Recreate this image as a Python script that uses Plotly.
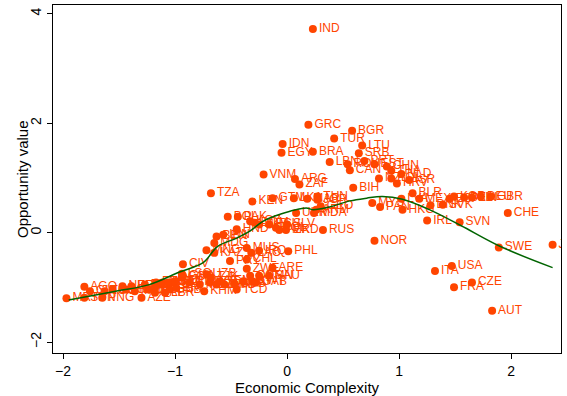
import plotly.graph_objects as go

codes = ["IND","GRC","BGR","TUR","LTU","IDN","EGY","BRA","SRB","LBN","ROU","CAN","PRT","EST","CHN","THA","NZL","POL","NLD","ISR","HRV","BLR","MEX","LVA","MYS","PAN","HKG","DNK","SVK","ESP","KOR","BEL","FIN","DEU","GBR","CHE","IRL","SVN","SWE","JPN","NOR","RUS","USA","ITA","CZE","FRA","AUT","BIH","VNM","ARG","ZAF","TZA","KEN","GTM","LKA","MAR","TUN","JOR","GEO","UKR","MDA","ARM",
         "BOL","PAK","KGZ","DOM","ALB","ECU","COL","PER","MKD","SLV","HND","IRN","BEN","MDG","MNG","KAZ","PRY","MUS","LAO","IRQ","PHL","CHL","ZWE","ARE","CIV",
         "UZB","TJK","SAU","OMN","QAT","KWT","YEM","KHM","CMR","GHA","SEN","NGA","ETH","ZMB","LBY","CUB","GAB","AZE","TCD","BGD","MOZ","MMR",
         "MRT","SDN","PNG","AGO","GIN","TGO","COG","NER","MWI","MLI","BFA","RWA","UGA","HTI","CAF","SLE","LBR","NPL","GNB","BDI","ERI","COD","LSO"]
eci = [0.23,0.19,0.58,0.42,0.67,-0.04,-0.05,0.23,0.64,0.38,0.54,0.56,0.69,0.78,0.89,0.93,0.82,0.93,1.02,1.09,0.98,1.12,1.18,1.02,0.76,0.83,1.03,1.28,1.39,1.45,1.49,1.58,1.65,1.73,1.82,1.97,1.25,1.54,1.89,2.37,0.78,0.32,1.47,1.32,1.65,1.49,1.83,0.59,-0.21,0.07,0.11,-0.68,-0.31,-0.13,0.06,0.18,0.27,0.27,0.30,0.08,0.24,0.26,
       -0.53,-0.44,-0.33,-0.29,-0.25,-0.16,-0.10,-0.07,-0.01,0.00,-0.45,-0.57,-0.63,-0.65,-0.72,-0.65,-0.51,-0.36,-0.32,-0.25,0.01,-0.36,-0.36,-0.13,-0.93,
       -0.72,-0.68,-0.16,-0.25,-0.33,-0.31,-0.60,-0.74,-0.87,-0.93,-1.02,-1.11,-1.17,-0.56,-0.39,-0.47,-0.28,-1.30,-0.45,-0.69,-0.78,-0.63,
       -1.97,-1.81,-1.65,-1.81,-1.76,-1.63,-1.56,-1.47,-1.44,-1.36,-1.39,-1.27,-1.24,-1.18,-1.18,-1.12,-1.09,-1.06,-1.05,-1.00,-0.99,-0.94,-0.94]
opp = [3.72,1.97,1.86,1.72,1.59,1.62,1.46,1.48,1.45,1.29,1.25,1.14,1.31,1.25,1.21,1.13,0.99,0.99,1.07,0.96,0.90,0.72,0.62,0.62,0.54,0.47,0.42,0.50,0.51,0.62,0.66,0.64,0.64,0.66,0.66,0.36,0.22,0.19,-0.27,-0.22,-0.15,0.05,-0.61,-0.70,-0.91,-1.00,-1.43,0.82,1.06,0.98,0.88,0.72,0.57,0.63,0.63,0.62,0.66,0.60,0.48,0.36,0.36,0.42,
       0.29,0.29,0.21,0.18,0.15,0.15,0.09,0.05,0.05,0.15,0.06,-0.04,-0.07,-0.19,-0.32,-0.37,-0.52,-0.28,-0.37,-0.33,-0.34,-0.49,-0.66,-0.64,-0.58,
       -0.76,-0.82,-0.79,-0.79,-0.79,-0.89,-0.89,-1.07,-0.91,-0.79,-0.91,-0.91,-0.91,-0.95,-0.89,-0.93,-0.91,-1.19,-1.04,-0.91,-0.95,-0.95,
       -1.20,-1.19,-1.19,-0.99,-1.07,-1.07,-1.04,-0.98,-1.04,-1.07,-0.98,-0.95,-1.04,-1.01,-1.10,-0.95,-1.10,-0.91,-1.04,-0.89,-1.01,-0.82,-0.75]

fit_x = [-1.95,-1.53,-1.23,-0.96,-0.75,-0.62,-0.45,-0.33,-0.22,-0.07,0.17,0.23,0.38,0.56,0.71,0.85,1.03,1.27,1.55,1.90,2.37]
fit_y = [-1.23,-1.07,-0.95,-0.72,-0.55,-0.25,-0.10,0.03,0.20,0.33,0.45,0.42,0.47,0.58,0.63,0.66,0.61,0.42,0.13,-0.25,-0.64]

ORANGE = "#FF4500"
FONT = "Liberation Sans, Arial, sans-serif"

fig = go.Figure()
fig.add_trace(go.Scatter(
    x=eci, y=opp, mode="markers+text", text=codes, textposition="middle right",
    marker=dict(color=ORANGE, size=8, line=dict(width=0)),
    textfont=dict(color=ORANGE, size=12, family=FONT),
    showlegend=False, cliponaxis=True))
fig.add_trace(go.Scatter(
    x=fit_x, y=fit_y, mode="lines", line=dict(color="#006400", width=1.5, shape="spline"),
    showlegend=False))

axis_common = dict(showgrid=False, zeroline=False, showline=True, linecolor="black",
                   linewidth=1, mirror=True, ticks="outside", ticklen=5, tickcolor="black",
                   tickfont=dict(size=14, color="black", family=FONT))
fig.update_xaxes(range=[-2.09, 2.445], tickvals=[-2, -1, 0, 1, 2],
                 title=dict(text="Economic Complexity", font=dict(size=15, color="black", family=FONT), standoff=3),
                 **axis_common)
fig.update_yaxes(range=[-2.2, 4.16], tickvals=[-2, 0, 2, 4], tickangle=-90, **axis_common)
fig.add_annotation(text="Opportunity value", xref="paper", yref="paper", x=-0.061, y=0.5,
                   xanchor="center", yanchor="middle", textangle=-90, showarrow=False,
                   font=dict(size=15, color="black", family=FONT))
fig.update_layout(width=567, height=396, margin=dict(l=53, r=6, t=4, b=41),
                  plot_bgcolor="white", paper_bgcolor="white", font=dict(family=FONT))
fig.write_html("out.html")
